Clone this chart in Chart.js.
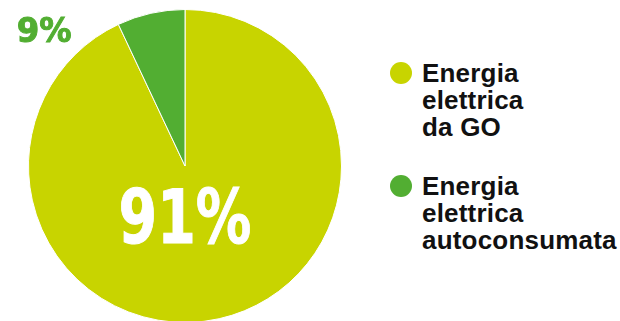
<!DOCTYPE html>
<html>
<head>
<meta charset="utf-8">
<script src="https://cdn.jsdelivr.net/npm/chart.js@4/dist/chart.umd.min.js"></script>
<style>
  html, body { margin: 0; padding: 0; background: #fff; }
  body { width: 620px; height: 321px; overflow: hidden; position: relative; }
  #wrap { position: absolute; left: 0; top: 0; width: 370px; height: 340px; }
  .legend { position: absolute; left: 390px; font-family: "Liberation Sans", Arial, sans-serif;
            font-weight: bold; font-size: 26px; line-height: 27px; color: #111; letter-spacing: 0.2px; }
  .legend .item { position: absolute; padding-left: 32px; white-space: nowrap; }
  .legend .dot { position: absolute; left: 0; top: 2px; width: 22px; height: 22px; border-radius: 50%; }
</style>
</head>
<body>
<div id="wrap"><canvas id="pie"></canvas></div>
<div class="legend" id="legend"></div>
<script>
// categories and values
var categories = ["Energia elettrica da GO", "Energia elettrica autoconsumata"];
var legendLines = [["Energia", "elettrica", "da GO"], ["Energia", "elettrica", "autoconsumata"]];
var sliceValues = [93, 7];
var valueLabels = ["91%", "9%"];
var colors = ["#c8d400", "#52ae32"];

// label placement: offset from pie center, in units of the radius
var labelSpots = [
    {dx: 0.0, dy: 0.37, size: 74, squeeze: 0.75, color: "#ffffff"},
    {dx: -0.9, dy: -0.85, size: 34, squeeze: 0.95, color: "#52ae32"}
];

var pctLabels = {
    id: "pctLabels",
    afterDatasetsDraw: function(chart) {
        var ctx = chart.ctx;
        var arc = chart.getDatasetMeta(0).data[0];
        var r = arc.outerRadius;
        valueLabels.forEach(function(txt, i) {
            var s = labelSpots[i];
            ctx.save();
            ctx.translate(arc.x + s.dx * r, arc.y + s.dy * r);
            ctx.scale(s.squeeze, 1);
            ctx.textAlign = "center";
            ctx.textBaseline = "middle";
            ctx.fillStyle = s.color;
            ctx.strokeStyle = s.color;
            ctx.lineWidth = 1;
            ctx.font = "bold " + s.size + "px 'DejaVu Sans', sans-serif";
            ctx.fillText(txt, 0, 0);
            ctx.strokeText(txt, 0, 0);
            ctx.restore();
        });
    }
};

new Chart(document.getElementById("pie"), {
    type: "pie",
    data: {
        labels: categories,
        datasets: [{
            data: sliceValues,
            backgroundColor: colors,
            borderColor: "#ffffff",
            borderWidth: 1
        }]
    },
    options: {
        responsive: true,
        maintainAspectRatio: false,
        animation: false,
        layout: { padding: { left: 28, right: 28, top: 9, bottom: 17 } },
        plugins: {
            legend: { display: false },
            tooltip: { enabled: false }
        }
    },
    plugins: [pctLabels]
});

// html legend
var legendEl = document.getElementById("legend");
var tops = [60, 173];
categories.forEach(function(c, i) {
    var item = document.createElement("div");
    item.className = "item";
    item.style.top = tops[i] + "px";
    var dot = document.createElement("span");
    dot.className = "dot";
    dot.style.background = colors[i];
    item.appendChild(dot);
    legendLines[i].forEach(function(line, j) {
        if (j) item.appendChild(document.createElement("br"));
        item.appendChild(document.createTextNode(line));
    });
    legendEl.appendChild(item);
});
</script>
</body>
</html>
